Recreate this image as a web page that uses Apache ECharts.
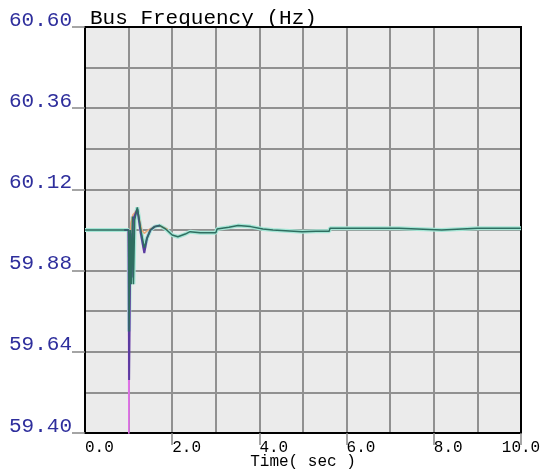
<!DOCTYPE html>
<html>
<head>
<meta charset="utf-8">
<script src="https://cdn.jsdelivr.net/npm/echarts@6/dist/echarts.min.js"></script>
<style>html,body{margin:0;padding:0;background:#fff;}#c{width:545px;height:474px;}</style>
</head>
<body>
<div id="c"></div>
<script>
var yTickLabels = [59.40, 59.64, 59.88, 60.12, 60.36, 60.60];
var xTickLabels = [0, 2, 4, 6, 8, 10];
var xTickMarks = [2, 4, 6, 8, 10];

var tealT = [0, 1.00, 1.01, 1.04, 1.06, 1.09, 1.11, 1.14, 1.20, 1.28, 1.36, 1.42, 1.50, 1.60, 1.72, 1.85, 2.00, 2.13, 2.30, 2.41, 2.64, 3.00, 3.03, 3.30, 3.51, 3.80, 4.08, 4.31, 4.60, 4.98, 5.30, 5.60, 5.62, 6.50, 7.20, 7.22, 8.18, 8.19, 9.00, 10.0];
var tealV = [60.000, 60.000, 59.700, 60.000, 59.840, 60.040, 59.840, 60.030, 60.067, 60.000, 59.947, 59.975, 60.000, 60.010, 60.013, 60.003, 59.985, 59.980, 59.988, 59.995, 59.992, 59.992, 60.003, 60.008, 60.013, 60.010, 60.003, 60.000, 59.998, 59.995, 59.996, 59.996, 60.005, 60.005, 60.005, 60.000, 60.000, 60.005, 60.005, 60.005];

var purpleT = [0.90, 1.00, 1.012, 1.04, 1.07, 1.10, 1.14, 1.20, 1.28, 1.36, 1.42, 1.50, 1.60, 1.72];
var purpleV = [60.000, 60.000, 59.557, 59.990, 59.860, 60.030, 60.025, 60.062, 59.990, 59.932, 59.975, 60.000, 60.010, 60.013];

var magentaT = [0.90, 0.995, 1.005, 1.03, 1.06, 1.10, 1.20];
var magentaV = [60.000, 60.000, 59.350, 59.960, 59.880, 60.020, 60.060];

var orangeT = [0.90, 1.00, 1.01, 1.05, 1.10, 1.20, 1.30, 1.36, 1.45, 1.60, 1.72, 1.90];
var orangeV = [60.000, 60.000, 59.800, 60.020, 60.045, 60.060, 60.000, 59.990, 60.000, 60.010, 60.012, 60.002];

function pairs(t, v) { return t.map(function (x, i) { return [x, v[i]]; }); }

var font = 'Liberation Mono, Courier New, monospace';
var gridLine = {show: true, lineStyle: {color: '#909090', width: 2}};
var chart = echarts.init(document.getElementById('c'), null, {renderer: 'canvas'});
chart.setOption({
  animation: false,
  backgroundColor: '#ffffff',
  title: {
    text: 'Bus Frequency (Hz)',
    left: 85, top: 3,
    textStyle: {fontFamily: font, fontSize: 21, fontWeight: 'normal', color: '#000'}
  },
  grid: {
    left: 85, right: 24, top: 27, bottom: 41,
    outerBoundsMode: 'none', containLabel: false,
    show: true, backgroundColor: '#ebebeb', borderColor: '#000', borderWidth: 2
  },
  xAxis: [{
    type: 'value', min: 0, max: 10, interval: 2,
    name: 'Time( sec )', nameLocation: 'middle', nameGap: 21, nameMoveOverlap: false,
    nameTextStyle: {fontFamily: font, fontSize: 16, color: '#000'},
    axisLine: {show: true, lineStyle: {color: '#000', width: 2}},
    axisTick: {show: true, length: 12, customValues: xTickMarks, lineStyle: {color: '#888', width: 1.5}},
    axisLabel: {
      show: true, customValues: xTickLabels, margin: 7, align: 'left',
      alignMaxLabel: 'center',
      fontFamily: font, fontSize: 16, color: '#000',
      formatter: function (v) { return v.toFixed(1); }
    },
    splitLine: {show: false}
  }, {
    type: 'value', min: 0, max: 10, interval: 1, position: 'top',
    axisLine: {show: true, onZero: false, lineStyle: {color: '#000', width: 2}},
    axisTick: {show: false}, axisLabel: {show: false}, splitLine: gridLine
  }],
  yAxis: [{
    type: 'value', min: 59.40, max: 60.60, interval: 0.24,
    axisLine: {show: true, lineStyle: {color: '#000', width: 2}},
    axisTick: {show: true, length: 13, customValues: yTickLabels, lineStyle: {color: '#888', width: 1.5}},
    axisLabel: {
      show: true, customValues: yTickLabels, margin: 13,
      verticalAlign: 'bottom', lineHeight: 14,
      fontFamily: font, fontSize: 21, color: '#2e2e9c',
      formatter: function (v) { return v.toFixed(2); }
    },
    splitLine: {show: false}
  }, {
    type: 'value', min: 59.40, max: 60.60, interval: 0.12, position: 'right',
    axisLine: {show: true, onZero: false, lineStyle: {color: '#000', width: 2}},
    axisTick: {show: false}, axisLabel: {show: false}, splitLine: gridLine
  }],
  series: [
    {type: 'line', data: pairs(tealT, tealV), symbol: 'none', lineStyle: {color: '#a6e6d6', width: 4}, z: 2},
    {type: 'line', data: pairs(orangeT, orangeV), symbol: 'none', lineStyle: {color: '#e8a878', width: 1.5}, z: 3},
    {type: 'line', data: pairs(magentaT, magentaV), symbol: 'none', lineStyle: {color: '#e070e8', width: 1.5}, z: 4},
    {type: 'line', data: pairs(purpleT, purpleV), symbol: 'none', lineStyle: {color: '#5a3aa0', width: 2}, z: 5},
    {type: 'line', data: pairs(tealT, tealV), symbol: 'none', lineStyle: {color: '#2e6e60', width: 1.5}, z: 6}
  ]
});
</script>
</body>
</html>
